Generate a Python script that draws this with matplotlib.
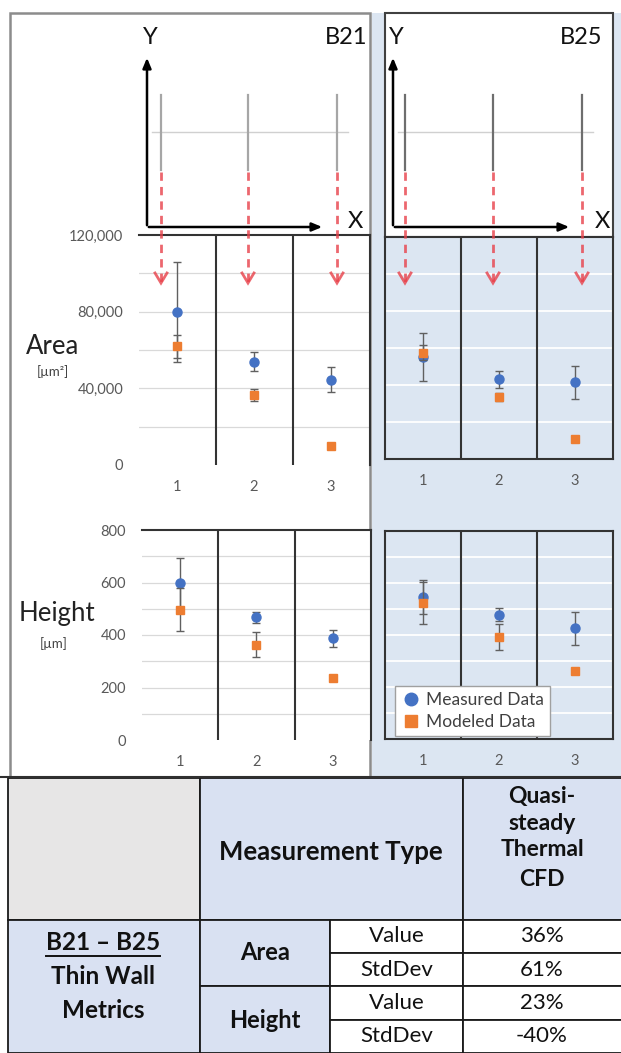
import matplotlib
matplotlib.use("Agg")
import matplotlib.pyplot as plt
from matplotlib.patches import Rectangle
from matplotlib.lines import Line2D

plt.rcParams['font.family'] = ['Lato', 'DejaVu Sans']

# ---------------- data ----------------
categories = [1, 2, 3]
cat_labels = ["1", "2", "3"]

area_b21_meas = [80000, 54000, 44500]
area_b21_meas_err = [26000, 5000, 6500]
area_b21_mod = [62000, 36500, 10000]
area_b21_mod_err = [6000, 3000, 0]

area_b25_meas = [55000, 43000, 41500]
area_b25_meas_err = [13000, 4500, 9000]
area_b25_mod = [57500, 33500, 11000]
area_b25_mod_err = [4000, 2000, 0]

height_b21_meas = [600, 467, 388]
height_b21_meas_err = [92, 20, 32]
height_b21_mod = [497, 363, 238]
height_b21_mod_err = [82, 47, 0]

height_b25_meas = [545, 477, 426]
height_b25_meas_err = [65, 25, 63]
height_b25_mod = [522, 394, 260]
height_b25_mod_err = [80, 50, 10]

area_ticks = [0, 40000, 80000, 120000]
area_tick_labels = ["0", "40,000", "80,000", "120,000"]
height_ticks = [0, 200, 400, 600, 800]
height_tick_labels = ["0", "200", "400", "600", "800"]

table_header = ["Measurement Type", ["Quasi-", "steady", "Thermal", "CFD"]]
table_rowgroup = ["B21 \u2013 B25", "Thin Wall", "Metrics"]
table_metrics = ["Area", "Height"]
table_stats = ["Value", "StdDev", "Value", "StdDev"]
table_values = ["36%", "61%", "23%", "-40%"]

# ---------------- style ----------------
W, H = 621, 1053
BLUE = "#4472C4"
ORANGE = "#ED7D31"
PANEL_BLUE = "#DCE6F2"
CELL_BLUE = "#D9E1F2"
CELL_GRAY = "#E7E6E6"
RED = "#E8414A"
TICK_GRAY = "#595959"

fig = plt.figure(figsize=(W / 100, H / 100), dpi=100)

def px_axes(x0, y0, x1, y1, **kw):
    return fig.add_axes([x0 / W, 1 - y1 / H, (x1 - x0) / W, (y1 - y0) / H], **kw)

# background overlay (pixel coordinates)
bg = px_axes(0, 0, W, H)
bg.set_xlim(0, W); bg.set_ylim(H, 0); bg.axis('off')
bg.set_zorder(0)

bg.add_patch(Rectangle((372, 13), 249, 764, facecolor=PANEL_BLUE, edgecolor='none'))
bg.add_patch(Rectangle((10, 13), 360, 764, facecolor='white', edgecolor='#8C8C8C', lw=1.8))
bg.add_patch(Rectangle((385, 13), 228, 224, facecolor='white', edgecolor='#404040', lw=1.5))
bg.plot([0, W], [777, 777], color='#303030', lw=1.5)

# ---------------- table ----------------
def cell(x0, y0, x1, y1, fc):
    bg.add_patch(Rectangle((x0, y0), x1 - x0, y1 - y0, facecolor=fc, edgecolor='#1A1A1A', lw=1.3))

rows = [920, 953, 986, 1020, 1053]
cell(8, 778, 200, 920, CELL_GRAY)
cell(200, 778, 463, 920, CELL_BLUE)
cell(463, 778, 623, 920, CELL_BLUE)
cell(8, 920, 200, 1053, CELL_BLUE)
cell(200, 920, 330, 986, CELL_BLUE)
cell(200, 986, 330, 1053, CELL_BLUE)
for i in range(4):
    cell(330, rows[i], 463, rows[i + 1], 'white')
    cell(463, rows[i], 623, rows[i + 1], 'white')

tfs = 16
TC = '#111111'
bg.text(331, 852, table_header[0], ha='center', va='center', fontsize=18.5, fontweight='bold', color=TC)
for k, (txt, yy) in enumerate(zip(table_header[1], [796, 823, 850, 879])):
    bg.text(542, yy, txt, ha='center', va='center', fontsize=16.5, fontweight='bold', color=TC)
t1 = None
for k, (txt, yy) in enumerate(zip(table_rowgroup, [943, 977, 1011])):
    t = bg.text(103, yy, txt, ha='center', va='center', fontsize=17.5, fontweight='bold', color=TC)
    if k == 0:
        t1 = t
bg.text(265, 953, table_metrics[0], ha='center', va='center', fontsize=17, fontweight='bold', color=TC)
bg.text(265, 1020, table_metrics[1], ha='center', va='center', fontsize=17, fontweight='bold', color=TC)
for i in range(4):
    yc = (rows[i] + rows[i + 1]) / 2
    bg.text(397, yc, table_stats[i], ha='center', va='center', fontsize=tfs, color=TC)
    bg.text(542, yc, table_values[i], ha='center', va='center', fontsize=tfs, color=TC)

# ---------------- charts ----------------
def style_chart(ax, ylim, ticks, tlabels, gridstep, b25):
    ax.set_xlim(0.5, 3.5)
    ax.set_ylim(*ylim)
    ax.set_xticks(categories)
    ax.set_xticklabels(cat_labels)
    if b25:
        ax.set_facecolor(PANEL_BLUE)
        ax.set_yticks(ticks)
        ax.set_yticklabels([])
        gc, glw = 'white', 1.3
        for s in ax.spines.values():
            s.set_color('#333333'); s.set_linewidth(1.5)
    else:
        ax.set_facecolor('white')
        ax.set_yticks(ticks)
        ax.set_yticklabels(tlabels)
        gc, glw = '#D9D9D9', 0.9
        ax.spines['left'].set_visible(False)
        ax.spines['bottom'].set_visible(False)
        for k in ['top', 'right']:
            ax.spines[k].set_color('#333333'); ax.spines[k].set_linewidth(1.5)
    g = ylim[0] + gridstep
    while g < ylim[1]:
        ax.axhline(g, color=gc, lw=glw, zorder=0.5)
        g += gridstep
    for xv in [1.5, 2.5]:
        ax.axvline(xv, color='#333333', lw=1.5, zorder=1)
    ax.tick_params(length=0, labelsize=10.5, labelcolor=TICK_GRAY, pad=11)

def plot_series(ax, meas, meas_err, mod, mod_err):
    ax.errorbar(categories, meas, yerr=meas_err, fmt='o', color=BLUE, ecolor='#606060',
                elinewidth=1.0, capsize=3, capthick=1.0, markersize=6.5, zorder=3,
                label='Measured Data')
    ax.errorbar(categories, mod, yerr=mod_err, fmt='s', color=ORANGE, ecolor='#606060',
                elinewidth=1.0, capsize=3, capthick=1.0, markersize=6, zorder=4,
                label='Modeled Data')

ax1 = px_axes(138.5, 235, 369.5, 465)
style_chart(ax1, (0, 120000), area_ticks, area_tick_labels, 20000, False)
plot_series(ax1, area_b21_meas, area_b21_meas_err, area_b21_mod, area_b21_mod_err)

ax2 = px_axes(385, 237, 613, 459)
style_chart(ax2, (0, 120000), area_ticks, area_tick_labels, 20000, True)
plot_series(ax2, area_b25_meas, area_b25_meas_err, area_b25_mod, area_b25_mod_err)

ax3 = px_axes(141.5, 530, 371, 740)
style_chart(ax3, (0, 800), height_ticks, height_tick_labels, 100, False)
plot_series(ax3, height_b21_meas, height_b21_meas_err, height_b21_mod, height_b21_mod_err)

ax4 = px_axes(385, 531, 613, 739)
style_chart(ax4, (0, 800), height_ticks, height_tick_labels, 100, True)
plot_series(ax4, height_b25_meas, height_b25_meas_err, height_b25_mod, height_b25_mod_err)
h, l = ax4.get_legend_handles_labels()
h = [Line2D([], [], marker='o', color=BLUE, ls='none', markersize=9),
     Line2D([], [], marker='s', color=ORANGE, ls='none', markersize=9)]
leg = ax4.legend(h, l, loc='lower left', bbox_to_anchor=(0.045, 0.015), fontsize=12.5,
                 frameon=True, fancybox=False, edgecolor='#A0A0A0', framealpha=1,
                 handletextpad=0.3, borderpad=0.35, labelspacing=0.35, handlelength=1.1,
                 borderaxespad=0)
for t in leg.get_texts():
    t.set_color('#404040')
leg.set_zorder(10)

# ---------------- foreground overlay: diagrams and labels ----------------
fg = px_axes(0, 0, W, H)
fg.set_xlim(0, W); fg.set_ylim(H, 0); fg.axis('off')
fg.patch.set_alpha(0)
fg.set_zorder(20)

def diagram(x_y, x_end, xs, gray, label, lab_x):
    fg.annotate('', xy=(x_y, 55), xytext=(x_y, 228),
                arrowprops=dict(arrowstyle='-|>,head_width=0.25,head_length=0.6', color='black', lw=1.8))
    fg.annotate('', xy=(x_end, 227), xytext=(x_y - 1, 227),
                arrowprops=dict(arrowstyle='-|>,head_width=0.25,head_length=0.6', color='black', lw=1.8))
    fg.text(x_y + 3, 37, "Y", ha='center', va='center', fontsize=17, color='#111111')
    fg.text(x_end + 30, 221, "X", ha='center', va='center', fontsize=17, color='#111111')
    fg.text(lab_x, 37, label, ha='right', va='center', fontsize=17, color='#111111')
    fg.plot([x_y + 5, xs[-1] + 11], [132, 132], color='#D0D0D0', lw=1.0)
    for xv in xs:
        fg.plot([xv, xv], [95, 170], color=gray, lw=1.6)
        fg.plot([xv, xv], [172, 282], color=RED, lw=2.0, ls=(0, (3, 2.2)), alpha=0.8)
        fg.plot([xv - 6, xv, xv + 6], [273, 283, 273], color=RED, lw=2.0, alpha=0.8,
                solid_joinstyle='miter')

diagram(147, 325, [161, 248, 337], '#A6A6A6', "B21", 367)
diagram(393, 572, [405, 493, 582], '#6E6E6E', "B25", 602)

fg.text(53, 346, "Area", ha='center', va='center', fontsize=18.5, color='#222222')
fg.text(53, 372, "[\u00b5m\u00b2]", ha='center', va='center', fontsize=9.5, color='#444444')
fg.text(57, 613, "Height", ha='center', va='center', fontsize=18.5, color='#222222')
fg.text(54, 644, "[\u00b5m]", ha='center', va='center', fontsize=9.5, color='#444444')

# underline for "B21 – B25"
fig.canvas.draw()
bb = t1.get_window_extent().transformed(bg.transData.inverted())
x0u, x1u = sorted([bb.x0, bb.x1])
ybot = max(bb.y0, bb.y1)
bg.plot([x0u, x1u], [ybot + 1, ybot + 1], color='#111111', lw=1.4)

fig.savefig("out.png", dpi=100)
